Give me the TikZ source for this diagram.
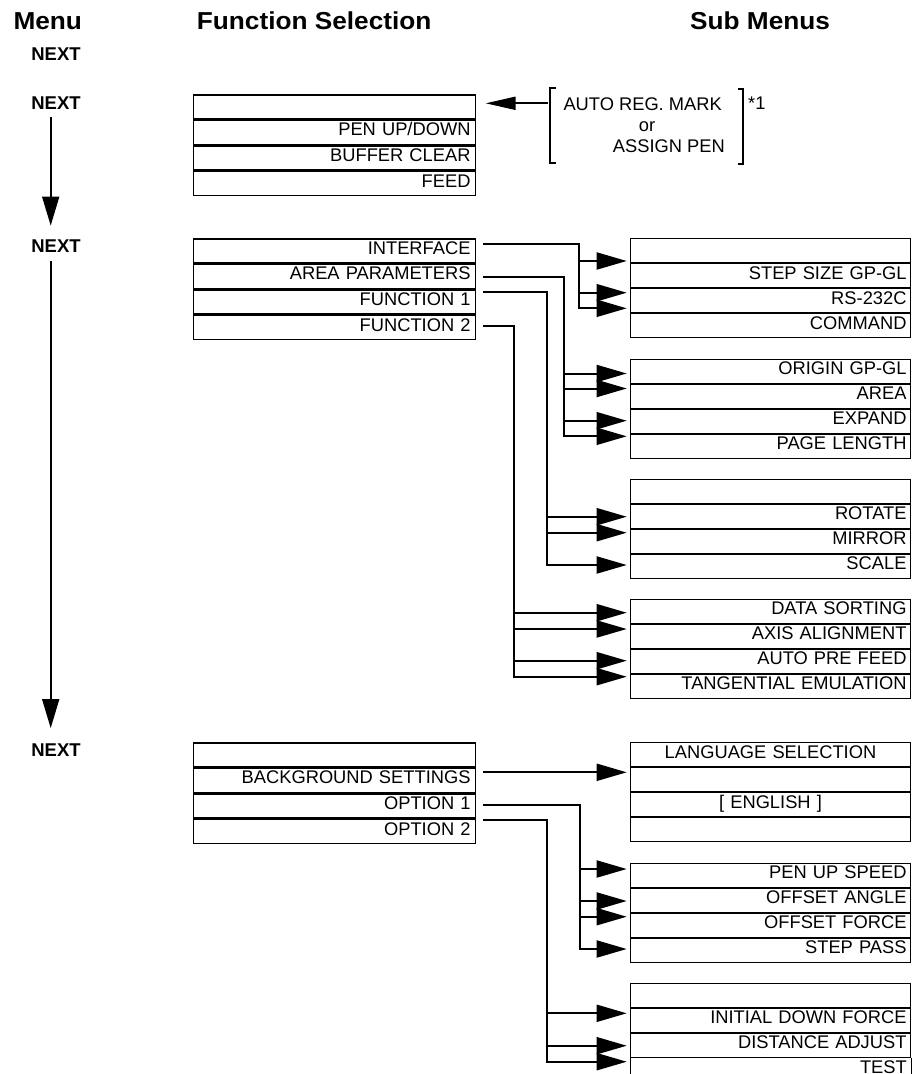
\documentclass[tikz,border=0pt]{standalone}
\usepackage{fontspec}
\setmainfont{Liberation Sans}
\newfontfamily\headfont[FakeStretch=1.07]{Liberation Sans Bold}
\usetikzlibrary{arrows.meta}
\newcommand\fourrows[8]{%
  \node[#1] (#2a) at (#3,#4) {#5};
  \node[#1] (#2b) at (#2a.south west) {#6};
  \node[#1] (#2c) at (#2b.south west) {#7};
  \node[#1] (#2d) at (#2c.south west) {#8};}
\begin{document}
\begin{tikzpicture}[x=1pt,y=-1pt,
  txt/.style={font=\fontsize{18.3}{20}\selectfont},
  fbox/.style={draw, line width=1.6pt, anchor=north west, minimum height=24pt,
    text width=272pt, inner xsep=5pt, inner ysep=0pt, text height=13pt,
    text depth=6pt, align=right, txt},
  sbox/.style={fbox, line width=1pt, inner xsep=4pt},
  sboxc/.style={sbox, align=center},
  head/.style={font=\fontsize{24.5}{26}\headfont, inner sep=0pt},
  nextlbl/.style={font=\fontsize{18.5}{20}\selectfont\bfseries, text height=13pt, text depth=0pt, inner sep=3pt},
  conn/.style={line width=2pt},
  arr/.style={conn, -{Triangle[length=30pt,width=17pt]}},
  menuarr/.style={line width=1.6pt, -{Triangle[length=29pt,width=17pt]}},
  plain/.style={txt, inner sep=0pt}]
\useasboundingbox (0,0) rectangle (916,1074);
\clip (0,0) rectangle (916,1074);

% headers
\node[head, anchor=base west] (hmenu) at (13.3,29.3) {Menu};
\node[head, anchor=base west] (hfunc) at (196.7,29.3) {Function Selection};
\node[head, anchor=base west] (hsub) at (690,29.3) {Sub Menus};

% NEXT labels
\node[nextlbl] (n1) at (56,54) {NEXT};
\node[nextlbl] (n2) at (56,102.5) {NEXT};
\node[nextlbl] (n3) at (56,246.3) {NEXT};
\node[nextlbl] (n4) at (56,750.3) {NEXT};
\draw[menuarr, shorten <=5pt, shorten >=11pt] ([xshift=-5.3pt]n2.south) -- ([xshift=-5.3pt]n3.north);
\draw[menuarr, shorten <=5pt, shorten >=12.5pt] ([xshift=-5.3pt]n3.south) -- ([xshift=-5.3pt]n4.north);

% function selection boxes
\fourrows{fbox}{fa}{192.7}{94}{}{PEN UP/DOWN}{BUFFER CLEAR}{FEED}
\fourrows{fbox}{fb}{192.7}{238}{INTERFACE}{AREA PARAMETERS}{FUNCTION 1}{FUNCTION 2}
\fourrows{fbox}{fc}{192.7}{742}{}{BACKGROUND SETTINGS}{OPTION 1}{OPTION 2}

% sub menu boxes
\fourrows{sbox}{sa}{630}{238.4}{}{STEP SIZE GP-GL}{RS-232C}{COMMAND}
\fourrows{sbox}{sb}{630}{358.6}{ORIGIN GP-GL}{AREA}{EXPAND}{PAGE LENGTH}
\fourrows{sbox}{sc}{630}{478.6}{}{ROTATE}{MIRROR}{SCALE}
\fourrows{sbox}{sd}{630}{598.6}{DATA SORTING}{AXIS ALIGNMENT}{AUTO PRE FEED}{TANGENTIAL EMULATION}
\fourrows{sboxc}{se}{630}{742.3}{LANGUAGE SELECTION}{}{[ ENGLISH ]}{}
\fourrows{sbox}{sf}{630}{862.5}{PEN UP SPEED}{OFFSET ANGLE}{OFFSET FORCE}{STEP PASS}
% last box: its bottom lies below the picture's edge
\node[sbox] (sga) at (630,982.6) {};
\node[sbox] (sgb) at (sga.south west) {INITIAL DOWN FORCE};
\node[sbox] (sgc) at (sgb.south west) {DISTANCE ADJUST};
\draw[line width=1pt] (sgc.south west) -- ++(0,30) (sgc.south east) -- ++(0,30);
\node[plain, anchor=base east] (sgd) at ([xshift=-4pt, yshift=-15.5pt]sgc.south east) {TEST};

% auto reg mark bracket
\draw[conn] (556,88.3) -- (550,88.3) -- (550,163.3) -- (556,163.3);
\draw[conn] (738,89.3) -- (743.3,89.3) -- (743.3,164) -- (738,164);
\node[plain, anchor=base west] (autoreg) at (563.3,110) {AUTO REG. MARK};
\node[plain, anchor=base] (orlbl) at (647,131.7) {or};
\node[plain, anchor=base east] (assign) at (725,152.7) {ASSIGN PEN};
\node[plain, anchor=base west] (star) at (748,109.6) {*1};
\coordinate (brk) at (548.3,103.3);
\path ([xshift=9.3pt]faa.east) coordinate (fae);
\draw[conn, -{Triangle[length=30pt,width=13pt]}] (brk) -- (fae |- brk);

% INTERFACE
\draw[arr] (483,244.3) -| (579.3,308.3) -- (626.7,308.3);
\foreach \y in {261,292.7} \draw[arr] (579.3,\y) -- (626.7,\y);
% AREA PARAMETERS
\draw[arr] (483,276.7) -| (564.3,436.3) -- (626.7,436.3);
\foreach \y in {373.5,388.5,420.7} \draw[arr] (564.3,\y) -- (626.7,\y);
% FUNCTION 1
\draw[arr] (483,292.3) -| (546.7,565) -- (626.7,565);
\foreach \y in {516.7,532.7} \draw[arr] (546.7,\y) -- (626.7,\y);
% FUNCTION 2
\draw[arr] (483,326) -| (514.3,676.7) -- (626.7,676.7);
\foreach \y in {612.7,629,660.7} \draw[arr] (514.3,\y) -- (626.7,\y);
% BACKGROUND SETTINGS
\draw[arr] (483,772.3) -- (626.7,772.3);
% OPTION 1
\draw[arr] (483,804.7) -| (580,949) -- (626.7,949);
\foreach \y in {869,901,916.7} \draw[arr] (580,\y) -- (626.7,\y);
% OPTION 2
\draw[arr] (483,820.3) -| (546.7,1061.7) -- (626.7,1061.7);
\foreach \y in {1013.3,1045.7} \draw[arr] (546.7,\y) -- (626.7,\y);
\end{tikzpicture}
\end{document}
